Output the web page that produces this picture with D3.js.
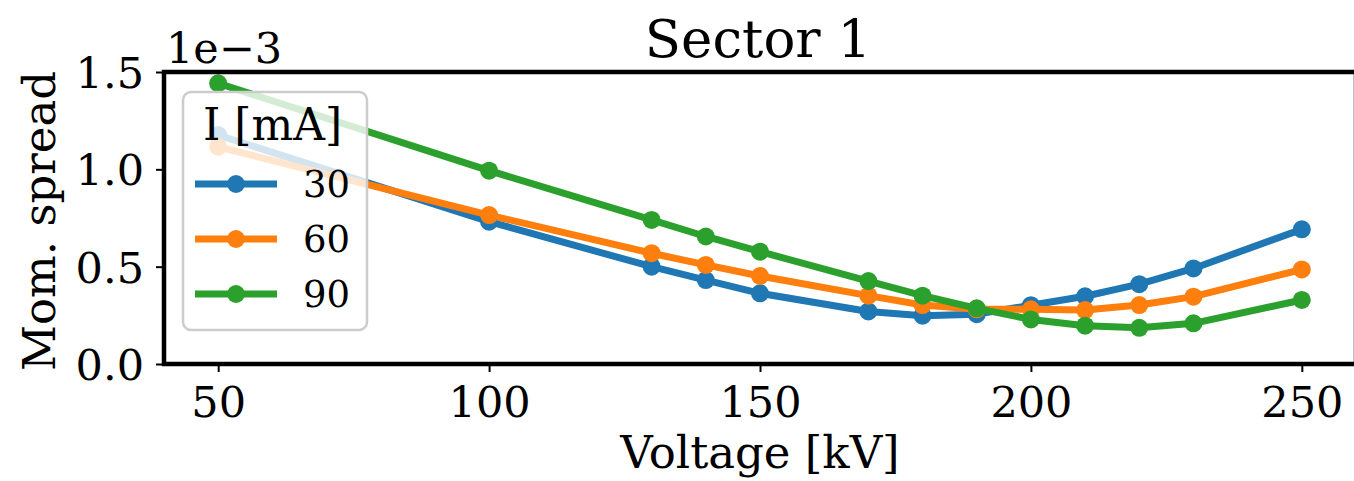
<!DOCTYPE html>
<html>
<head>
<meta charset="utf-8">
<script src="https://cdn.jsdelivr.net/npm/d3@7"></script>
<style>
  html, body { margin: 0; padding: 0; background: #fff; }
  svg { display: block; font-family: "DejaVu Serif", serif; }
</style>
</head>
<body>
<svg id="chart" width="1354" height="481"></svg>
<script>
// Beam momentum spread vs. gun voltage, one line per beam current
const voltages = [50, 100, 130, 140, 150, 170, 180, 190, 200, 210, 220, 230, 250];
const currents = ["30", "60", "90"];
const spread30 = [1.176e-3, 0.731e-3, 0.500e-3, 0.431e-3, 0.363e-3, 0.270e-3, 0.248e-3, 0.256e-3, 0.302e-3, 0.348e-3, 0.410e-3, 0.491e-3, 0.692e-3];
const spread60 = [1.116e-3, 0.765e-3, 0.569e-3, 0.509e-3, 0.452e-3, 0.351e-3, 0.303e-3, 0.281e-3, 0.281e-3, 0.277e-3, 0.303e-3, 0.346e-3, 0.486e-3];
const spread90 = [1.442e-3, 0.993e-3, 0.740e-3, 0.655e-3, 0.577e-3, 0.426e-3, 0.351e-3, 0.286e-3, 0.229e-3, 0.197e-3, 0.186e-3, 0.209e-3, 0.329e-3];
const xTicks = [50, 100, 150, 200, 250];
const yTicks = [0, 0.5e-3, 1.0e-3, 1.5e-3];
const colors = ["#1f77b4", "#ff7f0e", "#2ca02c"];

const seriesList = [spread30, spread60, spread90].map((vals, i) => ({
  name: currents[i],
  color: colors[i],
  points: voltages.map((v, j) => ({ x: v, y: vals[j] }))
}));

const svg = d3.select("#chart");
const plot = { left: 164, right: 1356, top: 72, bottom: 364 };
const lineWidth = 7, markerR = 9;

const x = d3.scaleLinear().domain([40, 260]).range([plot.left, plot.right]);
const y = d3.scaleLinear().domain([0, 1.5e-3]).range([plot.bottom, plot.top]);

// Axes
const xAxis = svg.append("g")
  .attr("transform", `translate(0,${plot.bottom})`)
  .call(d3.axisBottom(x).tickValues(xTicks).tickSize(8).tickPadding(12).tickFormat(d3.format("d")));
const yAxis = svg.append("g")
  .attr("transform", `translate(${plot.left},0)`)
  .call(d3.axisLeft(y).tickValues(yTicks).tickSize(8).tickPadding(12).tickFormat(d => (d * 1e3).toFixed(1)));

[xAxis, yAxis].forEach(g => {
  g.select(".domain").remove();
  g.selectAll(".tick line").attr("stroke", "#000").attr("stroke-width", 2);
  g.selectAll(".tick text")
    .attr("fill", "#000")
    .style("font-family", "'DejaVu Serif', serif")
    .style("font-size", "43px");
});
xAxis.selectAll(".tick text").attr("dy", "0.77em");
yAxis.selectAll(".tick text").attr("dy", "0.36em");

// Data lines
const line = d3.line().x(d => x(d.x)).y(d => y(d.y));
const lines = svg.append("g");
seriesList.forEach(s => {
  const g = lines.append("g");
  g.append("path")
    .datum(s.points)
    .attr("d", line)
    .attr("fill", "none")
    .attr("stroke", s.color)
    .attr("stroke-width", lineWidth)
    .attr("stroke-linejoin", "round")
    .attr("stroke-linecap", "square");
  g.selectAll("circle")
    .data(s.points)
    .join("circle")
    .attr("cx", d => x(d.x))
    .attr("cy", d => y(d.y))
    .attr("r", markerR)
    .attr("fill", s.color);
});

// Frame
svg.append("rect")
  .attr("x", plot.left).attr("y", plot.top)
  .attr("width", plot.right - plot.left).attr("height", plot.bottom - plot.top)
  .attr("fill", "none").attr("stroke", "#000").attr("stroke-width", 4.5);

// Title, axis labels, exponent
svg.append("text")
  .attr("x", (plot.left + plot.right) / 2 - 2).attr("y", 57)
  .attr("text-anchor", "middle").style("font-size", "53px")
  .text("Sector 1");
svg.append("text")
  .attr("x", (plot.left + plot.right) / 2).attr("y", 468)
  .attr("text-anchor", "middle").style("font-size", "45px")
  .text("Voltage [kV]");
svg.append("text")
  .attr("transform", `translate(55,221) rotate(-90)`)
  .attr("text-anchor", "middle").style("font-size", "45px")
  .text("Mom. spread");
svg.append("text")
  .attr("x", 166).attr("y", 63)
  .style("font-size", "43px")
  .text("1e\u22123");

// Legend
const legend = svg.append("g");
legend.append("rect")
  .attr("x", 183).attr("y", 92).attr("width", 184).attr("height", 238)
  .attr("rx", 8).attr("ry", 8)
  .attr("fill", "rgba(255,255,255,0.8)")
  .attr("stroke", "#cccccc").attr("stroke-width", 2.5);
legend.append("text")
  .attr("x", 203).attr("y", 140)
  .style("font-size", "44px")
  .text("I [mA]");
seriesList.forEach((s, i) => {
  const cy = 184 + i * 55;
  legend.append("line")
    .attr("x1", 195).attr("x2", 277).attr("y1", cy).attr("y2", cy)
    .attr("stroke", s.color).attr("stroke-width", lineWidth);
  legend.append("circle")
    .attr("cx", 236).attr("cy", cy).attr("r", markerR).attr("fill", s.color);
  legend.append("text")
    .attr("x", 303).attr("y", cy + 13)
    .style("font-size", "37px")
    .text(s.name);
});
</script>
</body>
</html>
